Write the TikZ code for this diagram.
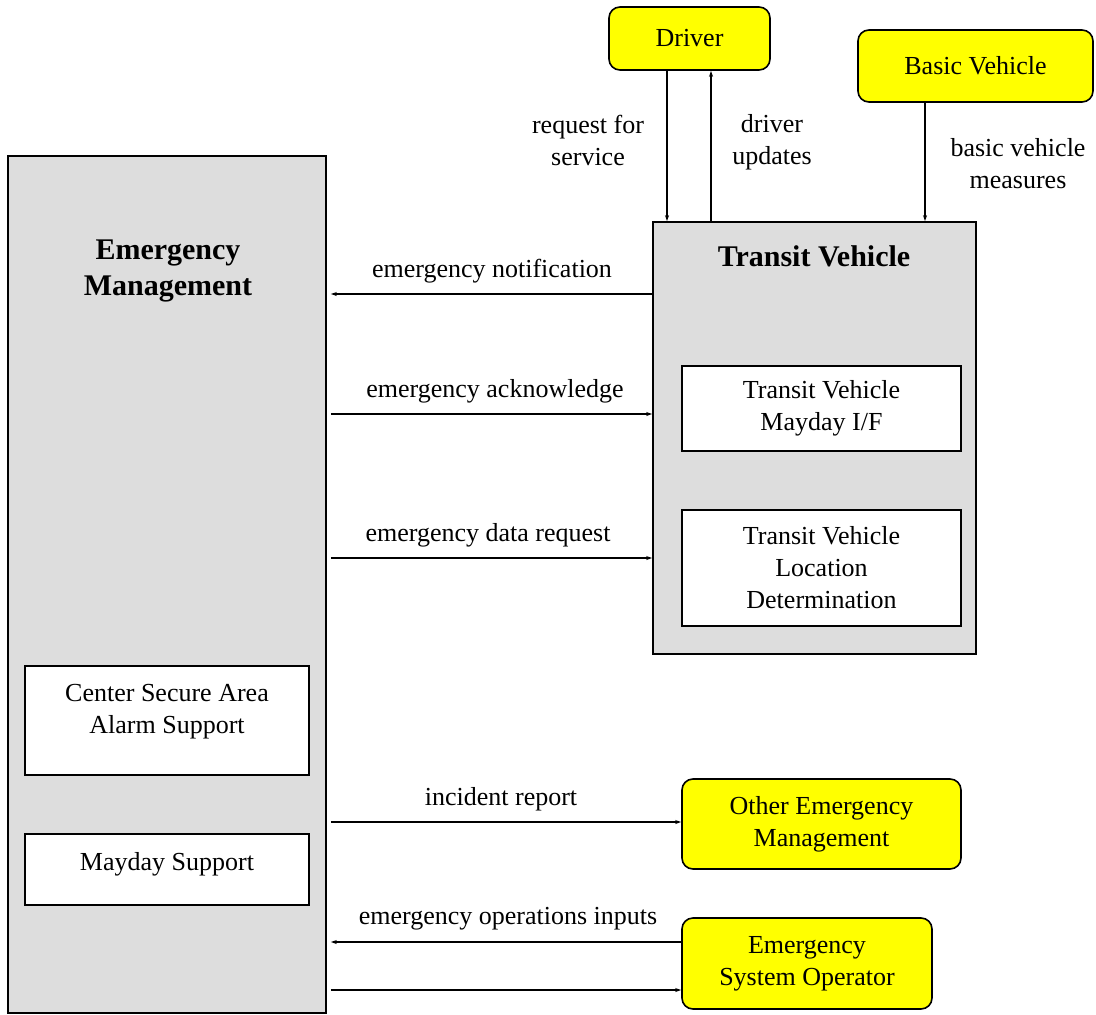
\documentclass[tikz,border=0pt]{standalone}
\usepackage{fontspec}
\setmainfont{Liberation Serif}
\usetikzlibrary{arrows.meta}
\definecolor{boxgray}{HTML}{DDDDDD}
\definecolor{extyellow}{HTML}{FFFF00}
\tikzset{
  grp/.style={draw=black, line width=1.6pt, fill=boxgray, inner sep=0pt},
  sub/.style={draw=black, line width=1.6pt, fill=white, inner sep=0pt, align=center, font=\fontsize{26}{32}\selectfont},
  ext/.style={draw=black, line width=1.6pt, fill=extyellow, rounded corners=11pt, inner sep=0pt, align=center, font=\fontsize{26}{32}\selectfont},
  ttl/.style={align=center, font=\fontsize{30}{36}\selectfont\bfseries},
  lbl/.style={align=center, inner sep=0pt, font=\fontsize{26}{32}\selectfont},
  arr/.style={line width=1.4pt, -{Stealth[length=6pt,width=4pt]}},
}
\begin{document}
\begin{tikzpicture}[x=1pt,y=-1pt]
\useasboundingbox (0,0) rectangle (1096,1015);
% groups
\node[grp, minimum width=318pt, minimum height=857pt] (em) at (167,584.5) {};
\node[ttl] (emt) at (168,271) {Emergency\\Management};
\node[sub, minimum width=284pt, minimum height=109pt] (csa) at (167,720.5) {};
\node[lbl] (csat) at (167,712) {Center Secure Area\\Alarm Support};
\node[sub, minimum width=284pt, minimum height=71pt] (may) at (167,869.5) {};
\node[lbl] (mayt) at (167,864) {Mayday Support};
\node[grp, minimum width=323pt, minimum height=432pt] (tv) at (814.5,438) {};
\node[ttl] (tvt) at (814,256) {Transit Vehicle};
\node[sub, minimum width=279pt, minimum height=85pt] (tvm) at (821.5,408.5) {Transit Vehicle\\Mayday I/F};
\node[sub, minimum width=279pt, minimum height=116pt] (tvl) at (821.5,568) {Transit Vehicle\\Location\\Determination};
% externals
\node[ext, minimum width=161pt, minimum height=63pt] (drv) at (689.5,38.5) {Driver};
\node[ext, minimum width=235pt, minimum height=72pt] (bv) at (975.5,66) {Basic Vehicle};
\node[ext, minimum width=279pt, minimum height=90pt] (oem) at (821.5,824) {Other Emergency\\Management};
\node[ext, minimum width=250pt, minimum height=91pt] (eso) at (807,963.5) {Emergency\\System Operator};
% level coordinates
\coordinate (yn) at (0,294);
\coordinate (ya) at (0,414);
\coordinate (yd) at (0,558);
\coordinate (yi) at (0,822);
\coordinate (yo) at (0,942);
\coordinate (yx) at (0,990);
\coordinate (xr) at (667,0);
\coordinate (xu) at (711,0);
\coordinate (xb) at (925,0);
% vertical flows
\draw[arr] (drv.south -| xr) -- (tv.north -| xr);
\draw[arr] (tv.north -| xu) -- (drv.south -| xu);
\draw[arr] (bv.south -| xb) -- (tv.north -| xb);
\node[lbl] (l1) at (588,140) {request for\\service};
\node[lbl] (l2) at (772,142) {driver\\updates};
\node[lbl] (l3) at (1018,164) {basic vehicle\\measures};
% horizontal flows
\draw[arr] (tv.west |- yn) -- ([xshift=4pt]em.east |- yn);
\draw[arr] ([xshift=4pt]em.east |- ya) -- (tv.west |- ya);
\draw[arr] ([xshift=4pt]em.east |- yd) -- (tv.west |- yd);
\draw[arr] ([xshift=4pt]em.east |- yi) -- (oem.west |- yi);
\draw[arr] (eso.west |- yo) -- ([xshift=4pt]em.east |- yo);
\draw[arr] ([xshift=4pt]em.east |- yx) -- (eso.west |- yx);
\node[lbl] (l4) at (492,271) {emergency notification};
\node[lbl] (l5) at (495,391) {emergency acknowledge};
\node[lbl] (l6) at (488,535) {emergency data request};
\node[lbl] (l7) at (501,799) {incident report};
\node[lbl] (l8) at (508,919) {emergency operations inputs};
\end{tikzpicture}
\end{document}
